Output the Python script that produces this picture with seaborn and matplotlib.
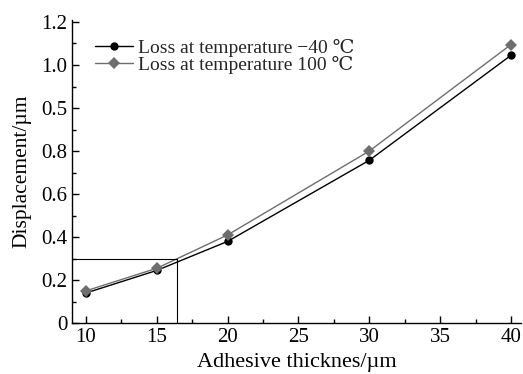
import matplotlib
matplotlib.use("Agg")
import matplotlib.pyplot as plt
import seaborn as sns
import pandas as pd
from matplotlib.ticker import MultipleLocator, FixedLocator

sns.set_theme(style="ticks")
plt.rcParams['font.family'] = ['Liberation Serif', 'DejaVu Serif']

thickness = [10, 15, 20, 30, 40]
loss_m40 = [0.14, 0.245, 0.38, 0.757, 1.245]
loss_100 = [0.15, 0.255, 0.41, 0.80, 1.295]
series_names = ["Loss at temperature \u221240 \u2103", "Loss at temperature 100 \u2103"]
ytick_values = [0, 0.2, 0.4, 0.6, 0.8, 1.0, 1.2, 1.4]
ytick_labels = ["0", "0.2", "0.4", "0.6", "0.8", "0.5", "1.0", "1.2"]
xtick_values = [10, 15, 20, 25, 30, 35, 40]
guide_x = 16.43
guide_y = 0.30

df = pd.DataFrame({
    "x": thickness * 2,
    "y": loss_m40 + loss_100,
    "series": [series_names[0]] * len(thickness) + [series_names[1]] * len(thickness),
})

fig = plt.figure(figsize=(5.23, 3.74), dpi=100)
ax = fig.add_axes([0.138, 0.136, 0.858, 0.811])

palette = {series_names[0]: "#000000", series_names[1]: "#6e6e6e"}
markers = {series_names[0]: "o", series_names[1]: "D"}
sns.lineplot(data=df, x="x", y="y", hue="series", style="series",
             palette=palette, markers=markers, dashes=False,
             markersize=6, linewidth=1.0, markeredgewidth=0, ax=ax)

# guide lines
ax.plot([9.03, guide_x], [guide_y, guide_y], color="black", lw=0.8)
ax.plot([guide_x, guide_x], [0, guide_y], color="black", lw=0.8)

ax.set_xlim(9.03, 40.7)
ax.set_ylim(0, 1.41)
ax.set_xticks(xtick_values)
ax.xaxis.set_minor_locator(MultipleLocator(2.5))
ax.yaxis.set_major_locator(FixedLocator(ytick_values))
ax.set_yticklabels(ytick_labels)
ax.yaxis.set_minor_locator(MultipleLocator(0.1))
ax.tick_params(which="both", direction="in", color="black", width=1.0, labelsize=15, colors="black")
ax.tick_params(which="major", length=5)
ax.tick_params(which="minor", length=3)
for s in ["top", "right"]:
    ax.spines[s].set_visible(False)
for s in ["left", "bottom"]:
    ax.spines[s].set_color("black")
    ax.spines[s].set_linewidth(1.0)

ax.set_xlabel("Adhesive thicknes/\u00b5m", fontsize=16, color="black", labelpad=4)
ax.set_ylabel("Displacement/\u00b5m", fontsize=15.5, color="black", labelpad=7)

leg = ax.legend(loc="upper left", bbox_to_anchor=(0.02, 0.983), frameon=False,
                fontsize=14, handlelength=1.95, handletextpad=0.25, labelspacing=-0.05,
                borderpad=0.2)

fig.savefig("out.png", dpi=100)
